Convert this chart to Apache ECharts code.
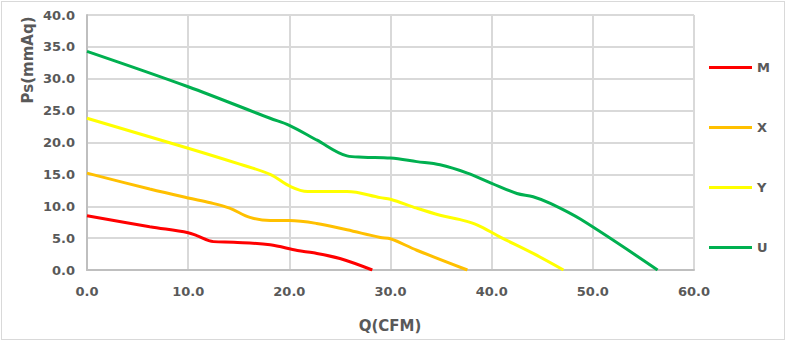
<!DOCTYPE html>
<html>
<head>
<meta charset="utf-8">
<title>Fan P-Q curves</title>
<script src="https://cdn.jsdelivr.net/npm/echarts@6/dist/echarts.min.js"></script>
<style>
  html, body { margin: 0; padding: 0; background: #fff; }
  #wrap { position: relative; width: 788px; height: 342px; }
  #chart { width: 788px; height: 342px; }
  #frame {
    position: absolute; left: 1px; top: 1px; width: 782px; height: 337px;
    border: 1px solid #D9D9D9; pointer-events: none;
  }
</style>
</head>
<body>
<div id="wrap">
  <div id="chart"></div>
  <div id="frame"></div>
</div>
<script>
// Airflow Q (CFM) and static pressure Ps (mmAq) for each fan speed
const seriesNames = ['M', 'X', 'Y', 'U'];

const qM  = [0, 6.2, 10, 10.85, 12.5, 14.5, 18.1, 20.8, 22.4, 25.0, 28.2];
const psM = [8.5, 6.8, 5.85, 5.4, 4.45, 4.35, 3.95, 3.05, 2.7, 1.8, 0];

const qX  = [0, 6.2, 10, 12.2, 14.1, 16.1, 18.1, 20, 22.7, 25.7, 29.0, 30.0, 32.6, 37.6];
const psX = [15.2, 12.7, 11.3, 10.55, 9.7, 8.25, 7.75, 7.75, 7.3, 6.3, 5.1, 4.9, 3.1, 0];

const qY  = [0, 10, 15.1, 18.1, 20.1, 21.8, 25.7, 29.0, 30.0, 32.6, 34.9, 36.9, 38.6, 40.8, 44.1, 47.1];
const psY = [23.8, 19.1, 16.6, 15.0, 13.1, 12.3, 12.3, 11.35, 11.1, 9.7, 8.6, 7.9, 7.05, 5.2, 2.6, 0];

const qU  = [0, 10, 18.1, 20, 22.7, 25.7, 27.3, 30, 32.6, 34.9, 37.6, 40, 42.5, 44.1, 45.8, 48.8, 56.4];
const psU = [34.3, 28.75, 23.8, 22.7, 20.4, 17.9, 17.7, 17.55, 17.0, 16.5, 15.2, 13.6, 12.0, 11.5, 10.45, 7.95, 0];

const seriesColors = ['#FF0000', '#FFC000', '#FFFF00', '#00B050'];

const qLists = [qM, qX, qY, qU];
const psLists = [psM, psX, psY, psU];

const zip = (xs, ys) => xs.map((x, i) => [x, ys[i]]);

const FONT = 'DejaVu Sans';
const TEXT_COLOR = '#595959';
const GRID_COLOR = '#D9D9D9';
const AXIS_COLOR = '#BFBFBF';

// vertical centre of each legend entry, top to bottom
const legendCentres = [67, 127, 187, 247];

const chart = echarts.init(document.getElementById('chart'), null, { renderer: 'svg' });

const tickLabel = {
  color: TEXT_COLOR, fontFamily: FONT, fontWeight: 'bold', fontSize: 13,
  formatter: v => v.toFixed(1)
};

chart.setOption({
  animation: false,
  grid: { left: 87, right: 94, top: 15, bottom: 72 },
  xAxis: {
    type: 'value',
    min: 0, max: 60, interval: 10,
    axisLine: { show: true, lineStyle: { color: AXIS_COLOR, width: 2 } },
    axisTick: { show: false },
    splitLine: { show: true, lineStyle: { color: GRID_COLOR, width: 2 } },
    axisLabel: Object.assign({ margin: 15 }, tickLabel)
  },
  yAxis: {
    type: 'value',
    min: 0, max: 40, interval: 5,
    axisLine: { show: true, lineStyle: { color: AXIS_COLOR, width: 2 } },
    axisTick: { show: false },
    splitLine: { show: true, lineStyle: { color: GRID_COLOR, width: 2 } },
    axisLabel: Object.assign({ margin: 12 }, tickLabel)
  },
  legend: seriesNames.map((name, i) => ({
    orient: 'vertical',
    left: 709,
    top: legendCentres[i] - 6,
    padding: 0,
    itemWidth: 43, itemHeight: 3,
    icon: 'rect',
    data: [name],
    textStyle: { color: TEXT_COLOR, fontFamily: FONT, fontWeight: 'bold', fontSize: 13 }
  })),
  graphic: [
    {
      type: 'text', silent: true,
      x: 390, y: 326,
      style: {
        text: 'Q(CFM)', fill: TEXT_COLOR, font: 'bold 15px "DejaVu Sans"',
        align: 'center', verticalAlign: 'middle'
      }
    },
    {
      type: 'text', silent: true,
      x: 28, y: 60, rotation: Math.PI / 2,
      style: {
        text: 'Ps(mmAq)', fill: TEXT_COLOR, font: 'bold 15px "DejaVu Sans"',
        align: 'center', verticalAlign: 'middle'
      }
    }
  ],
  series: seriesNames.map((name, i) => ({
    name,
    type: 'line',
    data: zip(qLists[i], psLists[i]),
    smooth: 0.35,
    symbol: 'none',
    color: seriesColors[i],
    lineStyle: { color: seriesColors[i], width: 3 }
  }))
});
</script>
</body>
</html>
